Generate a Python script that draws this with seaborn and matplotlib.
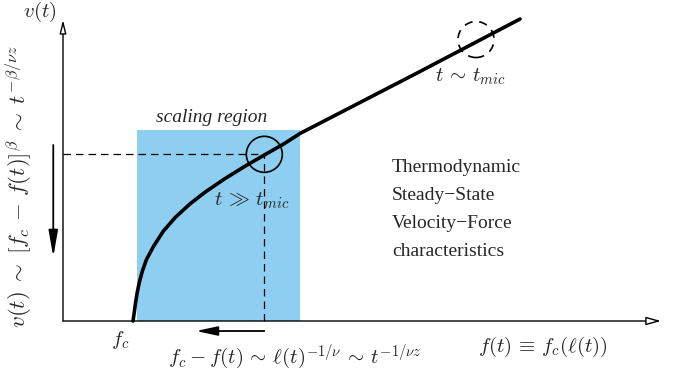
import matplotlib
matplotlib.use("Agg")
import matplotlib.pyplot as plt
import seaborn as sns
import pandas as pd
from matplotlib.patches import Circle, Rectangle

sns.set_style("white")
plt.rcParams["mathtext.fontset"] = "cm"
plt.rcParams["font.family"] = ["DejaVu Sans"]

# ---- data (schematic values) ----
f_curve = [1.0, 1.019, 1.036, 1.060, 1.093, 1.136, 1.193, 1.290, 1.433, 1.600,
           1.814, 2.029, 2.314, 2.600, 2.886, 3.171, 3.386, 5.100, 6.529]
v_curve = [0.0, 0.129, 0.257, 0.407, 0.564, 0.721, 0.879, 1.061, 1.283, 1.476,
           1.673, 1.840, 2.034, 2.211, 2.377, 2.540, 2.679, 3.564, 4.314]
f_c = 1.0
scaling_f = [1.057, 3.386]
scaling_v_top = 2.729
point_hi = [2.876, 2.381]      # t >> t_mic
point_mic = [5.90, 4.021]      # t ~ t_mic
circle_r = 0.257
axis_f_max = 8.543
axis_v_max = 4.30
arrow_down = [2.514, 0.914]    # v range of the down arrow
arrow_left = [2.876, 1.90]     # f range of the left arrow

W, H = 679, 379
fig = plt.figure(figsize=(W / 100, H / 100), dpi=100)
ax = fig.add_axes([0, 0, 1, 1])

def fx(px):
    return px / W

def fy(py):
    return 1 - py / H

# scaling region
ax.add_patch(Rectangle((scaling_f[0], 0), scaling_f[1] - scaling_f[0], scaling_v_top,
                       facecolor="#8ECEF0", edgecolor="none", zorder=1))

# dashed guides
ax.plot([0, point_hi[0]], [point_hi[1], point_hi[1]], color="black", lw=0.9,
        ls=(0, (6, 4)), zorder=2)
ax.plot([point_hi[0], point_hi[0]], [0, point_hi[1]], color="black", lw=0.9,
        ls=(0, (6, 4)), zorder=2)

# axes with open arrowheads
ax.annotate("", xy=(axis_f_max, 0), xytext=(0, 0),
            arrowprops=dict(arrowstyle="-|>,head_length=0.9,head_width=0.25",
                            fc="white", ec="black", lw=1.0, shrinkA=0, shrinkB=0),
            zorder=3)
ax.annotate("", xy=(0, axis_v_max), xytext=(0, 0),
            arrowprops=dict(arrowstyle="-|>,head_length=0.8,head_width=0.2",
                            fc="white", ec="black", lw=1.0, shrinkA=0, shrinkB=0),
            zorder=3)

# main curve
df = pd.DataFrame({"f": f_curve, "v": v_curve})
sns.lineplot(data=df, x="f", y="v", ax=ax, color="black", lw=2.6, sort=False,
             estimator=None, zorder=4)
ax.lines[-1].set_solid_joinstyle("round")
ax.set_xlim(-0.9, 8.8)
ax.set_ylim(-0.8286, 4.5857)
ax.axis("off")

# circles
ax.add_patch(Circle(point_hi, circle_r, fill=False, ec="black", lw=1.2, zorder=5))
ax.add_patch(Circle(point_mic, circle_r, fill=False, ec="black", lw=1.2,
                    ls=(0, (5, 4)), zorder=5))

# solid arrows
ax.annotate("", xy=(-0.139, arrow_down[1]), xytext=(-0.139, arrow_down[0]),
            arrowprops=dict(arrowstyle="-|>,head_length=1.6,head_width=0.28",
                            fc="black", ec="black", lw=1.3, shrinkA=0, shrinkB=0))
ax.annotate("", xy=(arrow_left[1], -0.143), xytext=(arrow_left[0], -0.143),
            arrowprops=dict(arrowstyle="-|>,head_length=1.3,head_width=0.28",
                            fc="black", ec="black", lw=1.3, shrinkA=0, shrinkB=0))

# texts
fs = 15
fig.text(fx(40), fy(12), r"$v(t)$", fontsize=fs, ha="center", va="center")
fig.text(fx(19), fy(187),
         r"$v(t)\;\sim\;[f_c\,-\,f(t)]^{\beta}\;\sim\;t^{-\beta/\nu z}$",
         fontsize=16.5, ha="center", va="center", rotation=90)
fig.text(fx(120), fy(340), r"$f_c$", fontsize=fs, ha="center", va="center")
fig.text(fx(295), fy(357), r"$f_c - f(t)\,\sim\,\ell(t)^{-1/\nu}\,\sim\,t^{-1/\nu z}$",
         fontsize=fs, ha="center", va="center")
fig.text(fx(543), fy(347), r"$f(t)\,\equiv\,f_c(\ell(t))$", fontsize=fs,
         ha="center", va="center")
fig.text(fx(470), fy(77), r"$t\,\sim\,t_{mic}$", fontsize=fs, ha="center", va="center")
fig.text(fx(252), fy(201), r"$t\,\gg\,t_{mic}$", fontsize=fs, ha="center", va="center")
fig.text(fx(212), fy(118), "scaling region", fontsize=14, ha="center", va="center",
         family=["Liberation Serif"], style="italic")
fig.text(fx(392), fy(159),
         "Thermodynamic\nSteady\u2212State\nVelocity\u2212Force\ncharacteristics",
         fontsize=14, ha="left", va="top", family=["Liberation Serif"],
         linespacing=1.85)

fig.savefig("out.png", dpi=100)
